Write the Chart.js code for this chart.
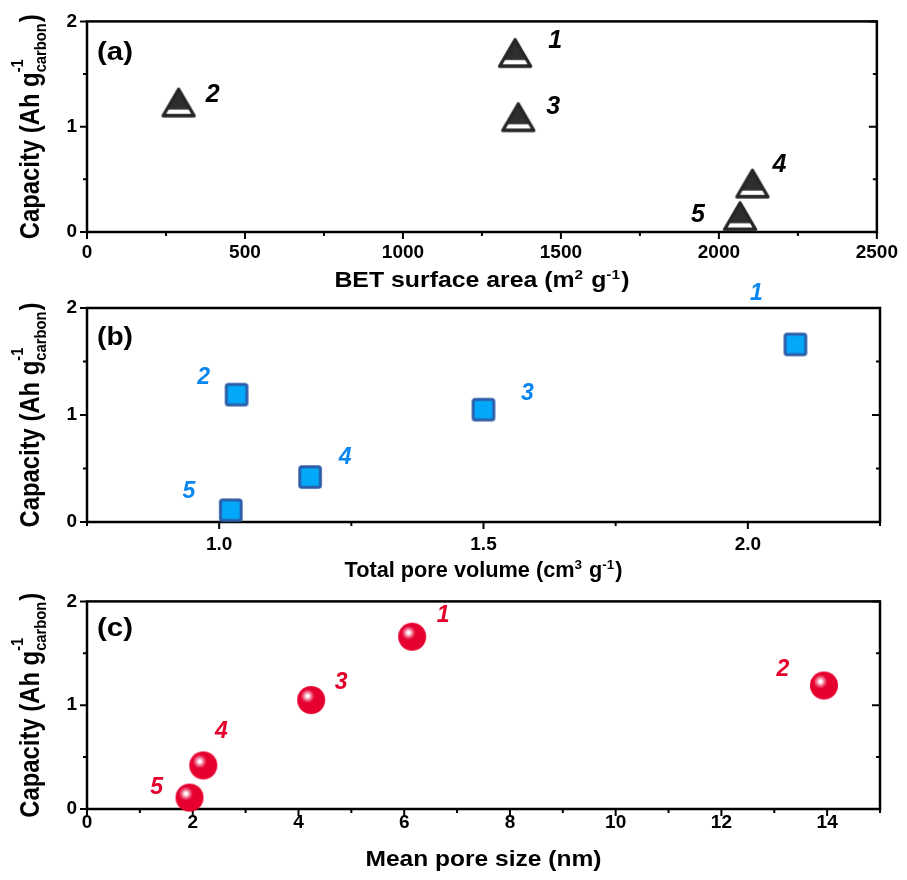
<!DOCTYPE html>
<html>
<head>
<meta charset="utf-8">
<script src="https://cdn.jsdelivr.net/npm/chart.js@4.4.1/dist/chart.umd.min.js"></script>
<style>
  body { margin: 0; background: #fff; }
  #wrap { position: relative; width: 907px; height: 880px; }
  #wrap canvas { position: absolute; left: 0; }
</style>
</head>
<body>
<div id="wrap">
  <canvas id="chartA" width="907" height="300" style="top:0"></canvas>
  <canvas id="chartB" width="907" height="330" style="top:260px"></canvas>
  <canvas id="chartC" width="907" height="300" style="top:580px"></canvas>
</div>
<script>
// samples 1..5, same capacity in every panel
const sampleLabels = ["1", "2", "3", "4", "5"];
const capacity = [1.66, 1.19, 1.05, 0.42, 0.11];
const betArea = [1355, 290, 1365, 2106, 2067];
const poreVolume = [2.09, 1.033, 1.50, 1.172, 1.022];
const poreSize = [6.15, 13.94, 4.24, 2.20, 1.94];

// axis ticks
const yTicks = [0, 1, 2];
const yMinor = [0.5, 1.5];
const xTicksA = [0, 500, 1000, 1500, 2000, 2500];
const xMinorA = [250, 750, 1250, 1750, 2250];
const xTicksB = [1.0, 1.5, 2.0];
const xMinorB = [0.75, 1.25, 1.75, 2.25];
const xTicksC = [0, 2, 4, 6, 8, 10, 12, 14];
const xMinorC = [1, 3, 5, 7, 9, 11, 13, 15];

// titles (sup / sub parts drawn small)
const yTitle = [{ t: "Capacity (Ah g" }, { sup: "-1", sub: "carbon" }, { t: ")" }];
const xTitleA = [{ t: "BET surface area (m" }, { sup: "2" }, { t: " g" }, { sup: "-1" }, { t: ")" }];
const xTitleB = [{ t: "Total pore volume (cm" }, { sup: "3" }, { t: " g" }, { sup: "-1" }, { t: ")" }];
const xTitleC = [{ t: "Mean pore size (nm)" }];

const FONT = '"Liberation Sans", Arial, Helvetica, sans-serif';

// ---- markers ----
function triangleMarker() {
  const c = document.createElement("canvas");
  c.width = 40; c.height = 40;
  const g = c.getContext("2d");
  const apex = 2.5, base = 29, half = 15.5;
  const path = () => { g.beginPath(); g.moveTo(20, apex); g.lineTo(20 + half, base); g.lineTo(20 - half, base); g.closePath(); };
  path(); g.fillStyle = "#2e2e2e"; g.fill();
  g.save(); path(); g.clip();
  g.fillStyle = "#fff"; g.fillRect(0, base - 6.2, 40, 4.6);
  g.restore();
  path(); g.lineWidth = 3.4; g.lineJoin = "round"; g.strokeStyle = "#262626"; g.stroke();
  return c;
}

function squareMarker() {
  const c = document.createElement("canvas");
  c.width = 30; c.height = 30;
  const g = c.getContext("2d");
  g.beginPath();
  g.roundRect(15 - 10.3, 15 - 10.3, 20.6, 20.6, 2);
  g.fillStyle = "#02A9FA"; g.fill();
  g.lineWidth = 3; g.strokeStyle = "#2C5DA9"; g.stroke();
  return c;
}

function sphereMarker() {
  const c = document.createElement("canvas");
  c.width = 32; c.height = 32;
  const g = c.getContext("2d");
  const grad = g.createRadialGradient(12.4, 12, 0, 12.4, 12, 7);
  grad.addColorStop(0, "#ffffff");
  grad.addColorStop(0.18, "#ffffff");
  grad.addColorStop(0.35, "#f7bccb");
  grad.addColorStop(0.65, "#ee5a7c");
  grad.addColorStop(1, "#e6002f");
  g.beginPath(); g.arc(16, 16, 14, 0, Math.PI * 2);
  g.fillStyle = grad; g.fill();
  return c;
}

// ---- rich text (sup/sub) ----
function layoutRich(ctx, parts, size, small) {
  let w = 0;
  const items = [];
  parts.forEach(p => {
    if (p.t !== undefined) {
      ctx.font = `bold ${size}px ${FONT}`;
      items.push({ s: p.t, x: w, k: "n" });
      w += ctx.measureText(p.t).width;
    } else {
      ctx.font = `bold ${small}px ${FONT}`;
      let adv = 0;
      if (p.sup) { items.push({ s: p.sup, x: w, k: "sup" }); adv = Math.max(adv, ctx.measureText(p.sup).width); }
      if (p.sub) { items.push({ s: p.sub, x: w, k: "sub" }); adv = Math.max(adv, ctx.measureText(p.sub).width); }
      w += adv + 1;
    }
  });
  return { items, w };
}

function drawRich(ctx, parts, o) {
  const small = o.size * 0.62;
  const L = layoutRich(ctx, parts, o.size, small);
  ctx.save();
  ctx.translate(o.x, o.y);
  if (o.rotate) ctx.rotate(-Math.PI / 2);
  ctx.scale(o.length / L.w, o.thick || 1);
  ctx.textAlign = "left";
  ctx.textBaseline = "alphabetic";
  ctx.fillStyle = "#000";
  L.items.forEach(it => {
    let dy = 0;
    if (it.k === "n") ctx.font = `bold ${o.size}px ${FONT}`;
    else {
      ctx.font = `bold ${small}px ${FONT}`;
      dy = (it.k === "sup" ? o.supDy : o.subDy) * o.size;
    }
    ctx.fillText(it.s, it.x - L.w / 2, dy);
  });
  ctx.restore();
}

// ---- frame, ticks, titles, point labels ----
function makeDecor(cfg) {
  return {
    id: "decor",
    beforeDatasetsDraw(chart) {
      const { ctx, chartArea: a, scales: { x, y } } = chart;
      ctx.save();
      ctx.strokeStyle = "#000";
      ctx.lineWidth = 2;
      ctx.beginPath();
      cfg.xMajor.forEach(v => { const p = x.getPixelForValue(v); ctx.moveTo(p, a.bottom); ctx.lineTo(p, a.bottom + 7); });
      cfg.xMinor.forEach(v => { const p = x.getPixelForValue(v); ctx.moveTo(p, a.bottom); ctx.lineTo(p, a.bottom + 4); });
      yTicks.forEach(v => {
        const p = y.getPixelForValue(v);
        ctx.moveTo(a.left - 7, p); ctx.lineTo(a.left, p);
        ctx.moveTo(a.right - 8, p); ctx.lineTo(a.right, p);
      });
      yMinor.forEach(v => {
        const p = y.getPixelForValue(v);
        ctx.moveTo(a.left - 4, p); ctx.lineTo(a.left, p);
        ctx.moveTo(a.right - 4, p); ctx.lineTo(a.right, p);
      });
      ctx.stroke();
      ctx.lineWidth = 2.5;
      ctx.strokeRect(a.left, a.top, a.right - a.left, a.bottom - a.top);
      ctx.restore();
    },
    afterDraw(chart) {
      const { ctx, chartArea: a, scales: { x, y } } = chart;
      drawRich(ctx, yTitle, { x: 39, y: (a.top + a.bottom) / 2, size: 24, rotate: true, length: 225, thick: 1.12, supDy: -0.58, subDy: 0.25 });
      drawRich(ctx, cfg.xTitle, { x: (a.left + a.right) / 2, y: a.bottom + cfg.titleDy, size: 22, length: cfg.titleW, supDy: -0.38, subDy: 0.2 });
      drawRich(ctx, [{ t: cfg.letter }], { x: a.left + 28, y: a.top + cfg.letterDy, size: 26, length: 36 });

      ctx.save();
      ctx.font = `italic bold ${cfg.labelSize}px ${FONT}`;
      ctx.fillStyle = cfg.labelColor;
      ctx.textAlign = "center";
      ctx.textBaseline = "middle";
      cfg.xs.forEach((v, i) => {
        const px = x.getPixelForValue(v), py = y.getPixelForValue(capacity[i]);
        const off = cfg.labelOffsets[i];
        ctx.fillText(sampleLabels[i], px + off[0], py + off[1]);
      });
      ctx.restore();
    }
  };
}

function makeChart(id, cfg) {
  const tickFont = { family: FONT, size: 19, weight: "bold" };
  new Chart(document.getElementById(id), {
    type: "scatter",
    data: {
      datasets: [{
        data: cfg.xs.map((v, i) => ({ x: v, y: capacity[i] })),
        pointStyle: cfg.marker,
        pointRadius: 14,
        pointHoverRadius: 14,
        clip: false
      }]
    },
    options: {
      responsive: false,
      animation: false,
      events: [],
      layout: { padding: { top: cfg.top, right: 27, bottom: 0, left: 0 } },
      plugins: { legend: { display: false }, tooltip: { enabled: false } },
      scales: {
        x: {
          type: "linear",
          min: cfg.xMin,
          max: cfg.xMax,
          afterBuildTicks: s => { s.ticks = cfg.xMajor.map(v => ({ value: v })); },
          afterFit: s => { s.height = cfg.xAxisH; },
          grid: { display: false, drawTicks: false },
          border: { display: false },
          ticks: { autoSkip: false, maxRotation: 0, padding: cfg.xPad, color: "#000", font: tickFont, callback: cfg.fmt }
        },
        y: {
          type: "linear",
          min: 0,
          max: 2,
          afterBuildTicks: s => { s.ticks = yTicks.map(v => ({ value: v })); },
          afterFit: s => { s.width = 87; },
          grid: { display: false, drawTicks: false },
          border: { display: false },
          ticks: { padding: 10, color: "#000", font: tickFont, callback: v => String(v) }
        }
      }
    },
    plugins: [makeDecor(cfg)]
  });
}

makeChart("chartA", {
  xs: betArea, xMin: 0, xMax: 2500, xMajor: xTicksA, xMinor: xMinorA, fmt: v => String(v),
  top: 18, xAxisH: 68, xPad: 9, titleW: 295, titleDy: 55, xTitle: xTitleA,
  letter: "(a)", letterDy: 39, marker: triangleMarker(),
  labelSize: 25, labelColor: "#000",
  labelOffsets: [[40, -16], [34, -12], [35, -14], [27, -23], [-42, -5]]
});

makeChart("chartB", {
  xs: poreVolume, xMin: 0.75, xMax: 2.25, xMajor: xTicksB, xMinor: xMinorB, fmt: v => v.toFixed(1),
  top: 48, xAxisH: 68, xPad: 11, titleW: 278, titleDy: 55, xTitle: xTitleB,
  letter: "(b)", letterDy: 37, marker: squareMarker(),
  labelSize: 23, labelColor: "#0A86F2",
  labelOffsets: [[-39, -51], [-33, -17], [44, -16], [35, -19], [-42, -19]]
});

makeChart("chartC", {
  xs: poreSize, xMin: 0, xMax: 15, xMajor: xTicksC, xMinor: xMinorC, fmt: v => String(v),
  top: 15, xAxisH: 71, xPad: 2, titleW: 236, titleDy: 57, xTitle: xTitleC,
  letter: "(c)", letterDy: 35, marker: sphereMarker(),
  labelSize: 23, labelColor: "#E4002B",
  labelOffsets: [[31, -21], [-41, -16], [30, -17], [18, -34], [-33, -10]]
});
</script>
</body>
</html>
